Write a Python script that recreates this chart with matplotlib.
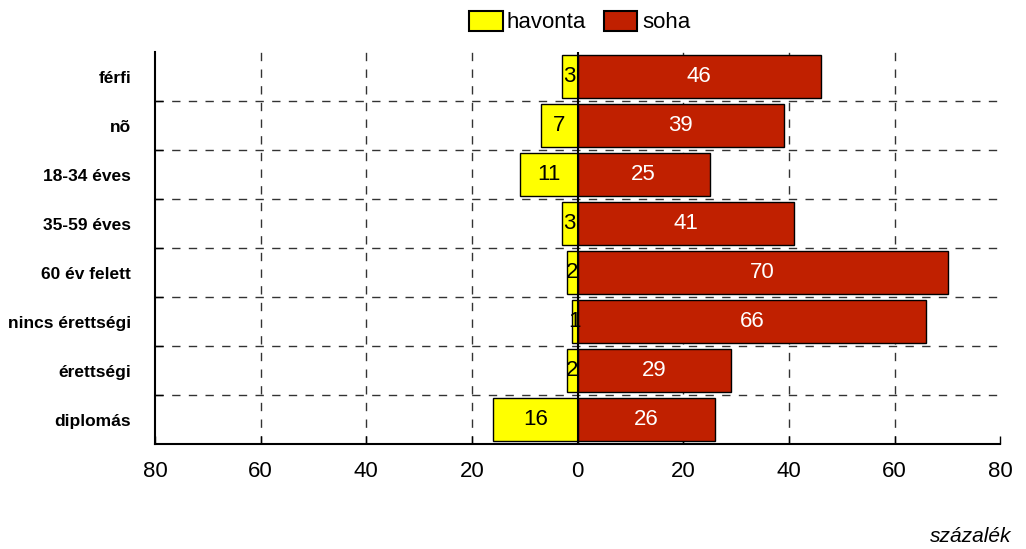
import matplotlib
matplotlib.use("Agg")
import matplotlib.pyplot as plt
from matplotlib.patches import Patch
import numpy as np

plt.rcParams['font.family'] = ['Liberation Sans Narrow', 'Liberation Sans', 'DejaVu Sans']

# adatok
categories = ["férfi", "nõ", "18-34 éves", "35-59 éves", "60 év felett",
              "nincs érettségi", "érettségi", "diplomás"]
havonta = [3, 7, 11, 3, 2, 1, 2, 16]
soha = [46, 39, 25, 41, 70, 66, 29, 26]
xticks = [-80, -60, -40, -20, 0, 20, 40, 60, 80]

yellow = "#FFFF00"
red = "#C02000"

fig = plt.figure(figsize=(10.26, 5.49), dpi=100)
ax = fig.add_axes([0.151, 0.191, 0.824, 0.714])

y = np.arange(len(categories))
bh = 0.88
ax.barh(y, [-v for v in havonta], height=bh, color=yellow, edgecolor="black", linewidth=1, zorder=3)
ax.barh(y, soha, height=bh, color=red, edgecolor="black", linewidth=1, zorder=3)

# értékek a sávokon
for i, (h, s) in enumerate(zip(havonta, soha)):
    ax.text(-h / 2, i, str(h), ha="center", va="center", fontsize=16, color="black", zorder=4)
    ax.text(s / 2, i, str(s), ha="center", va="center", fontsize=16, color="white", zorder=4)

ax.set_xlim(-80, 80)
ax.set_ylim(len(categories) - 0.5, -0.5)

# rács
for gx in [-60, -40, -20, 20, 40, 60]:
    ax.axvline(gx, color="#333333", linestyle=(0, (6, 6)), linewidth=1, zorder=1)
for gy in np.arange(0.5, len(categories) - 0.5, 1):
    ax.axhline(gy, color="#333333", linestyle=(0, (6, 6)), linewidth=1, zorder=1)
ax.axvline(0, color="black", linewidth=1.5, zorder=5)

ax.set_xticks(xticks)
ax.set_xticklabels([str(abs(t)) for t in xticks], fontsize=16)
ax.set_yticks(y)
ax.set_yticklabels(categories, fontsize=12.5, fontweight="bold")
ax.set_yticks(np.arange(0.5, len(categories) - 0.5, 1), minor=True)
ax.tick_params(axis="y", which="major", length=0, pad=17)
ax.tick_params(axis="y", which="minor", direction="in", length=6, width=1)
ax.tick_params(axis="x", direction="in", length=6, width=1, pad=12)

for side in ["top", "right"]:
    ax.spines[side].set_visible(False)
for side in ["left", "bottom"]:
    ax.spines[side].set_linewidth(1.5)

handles = [Patch(facecolor=yellow, edgecolor="black", linewidth=1.5, label="havonta"),
           Patch(facecolor=red, edgecolor="black", linewidth=1.5, label="soha")]
fig.legend(handles=handles, loc="center", bbox_to_anchor=(0.565, 0.96), ncol=2, frameon=False,
           fontsize=16, handlelength=1.5, handleheight=1.0, handletextpad=0.2, columnspacing=0.8)

fig.text(0.986, 0.005, "százalék", ha="right", va="bottom", fontsize=15, style="italic")

fig.savefig("out.png", dpi=100)
